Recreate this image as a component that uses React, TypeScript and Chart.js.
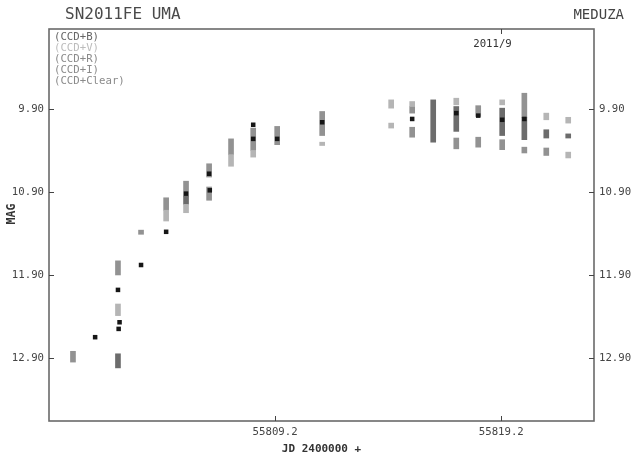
import React, { useEffect, useRef } from "react";
import { Chart, registerables } from "chart.js";

Chart.register(...registerables);

const TITLE = "SN2011FE UMA";
const OBSERVER = "MEDUZA";
const MONTH_LABEL = "2011/9";
const MONTH_JD = 55819.2;
const X_TITLE = "JD 2400000 +";
const Y_TITLE = "MAG";
const X_MIN = 55799.2;
const X_MAX = 55823.3;
const Y_MIN = 8.936;
const Y_MAX = 13.66;
const X_TICKS = [55809.2, 55819.2];
const Y_TICKS = [9.9, 10.9, 11.9, 12.9];
const LEGEND_LABELS = ["(CCD+B)", "(CCD+V)", "(CCD+R)", "(CCD+I)", "(CCD+Clear)"];
const LEGEND_COLORS = ["#666666", "#bcbcbc", "#8a8a8a", "#8a8a8a", "#8a8a8a"];

// isolated black squares: [JD, mag]
const B_POINTS: [number, number][] = [
  [55801.24, 12.65],
  [55802.25, 12.08],
  [55802.32, 12.47],
  [55802.28, 12.55],
  [55803.27, 11.78],
  [55804.38, 11.38],
  [55805.26, 10.92],
  [55806.28, 10.68],
  [55806.31, 10.88],
  [55808.23, 10.09],
  [55808.23, 10.26],
  [55809.29, 10.26],
  [55811.28, 10.06],
  [55815.26, 10.02],
  [55817.21, 9.95],
  [55818.18, 9.98],
  [55819.24, 10.03],
  [55820.22, 10.02],
];

// runs of stacked observations: [JD, brightest mag, faintest mag]
const V_SEGMENTS: [number, number, number][] = [
  [55802.25, 12.25, 12.39],
  [55804.38, 11.12, 11.25],
  [55805.26, 11.05, 11.15],
  [55807.25, 10.45, 10.59],
  [55808.23, 10.4, 10.48],
  [55811.28, 10.3, 10.34],
  [55814.33, 9.79, 9.89],
  [55814.33, 10.07, 10.13],
  [55815.26, 9.81, 9.87],
  [55817.21, 9.77, 9.85],
  [55819.24, 9.79, 9.85],
  [55821.19, 9.95, 10.03],
  [55822.16, 10.0, 10.07],
  [55822.16, 10.42, 10.49],
];

const R_SEGMENTS: [number, number, number][] = [
  [55800.26, 12.82, 12.95],
  [55802.25, 11.73, 11.9],
  [55803.27, 11.36, 11.41],
  [55804.38, 10.97, 11.12],
  [55805.26, 10.77, 10.95],
  [55806.28, 10.56, 10.72],
  [55806.28, 10.84, 11.0],
  [55807.25, 10.26, 10.45],
  [55808.23, 10.13, 10.4],
  [55809.29, 10.11, 10.33],
  [55811.28, 9.93, 10.22],
  [55815.26, 9.87, 9.95],
  [55815.26, 10.12, 10.24],
  [55817.21, 10.25, 10.38],
  [55818.18, 9.86, 9.99],
  [55818.18, 10.24, 10.36],
  [55819.24, 10.27, 10.39],
  [55820.22, 9.71, 10.0],
  [55820.22, 10.36, 10.43],
  [55821.19, 10.37, 10.46],
];

const I_SEGMENTS: [number, number, number][] = [
  [55802.25, 12.85, 13.02],
  [55805.26, 10.95, 11.05],
  [55816.19, 9.79, 10.3],
  [55817.21, 9.87, 10.17],
  [55819.24, 9.89, 10.22],
  [55820.22, 10.0, 10.27],
  [55821.19, 10.15, 10.25],
  [55822.16, 10.2, 10.25],
];

const MONO = "'DejaVu Sans Mono', 'Liberation Mono', monospace";

const segs = (arr: [number, number, number][]) => arr.map(([x, a, b]) => ({ x, y: [a, b] }));

const framePlugin = {
  id: "frameAndTexts",
  afterDraw(chart: any) {
    const { ctx, chartArea: a, scales } = chart;
    ctx.save();
    ctx.strokeStyle = "#6a6a6a";
    ctx.lineWidth = 1.6;
    ctx.strokeRect(a.left, a.top, a.right - a.left, a.bottom - a.top);
    ctx.lineWidth = 1;
    ctx.strokeStyle = "#444";
    ctx.beginPath();
    for (const v of X_TICKS) {
      const px = Math.round(scales.x.getPixelForValue(v)) + 0.5;
      ctx.moveTo(px, a.bottom);
      ctx.lineTo(px, a.bottom - 5);
    }
    const mx = Math.round(scales.x.getPixelForValue(MONTH_JD)) + 0.5;
    ctx.moveTo(mx, a.top);
    ctx.lineTo(mx, a.top + 5);
    for (const v of Y_TICKS) {
      const py = Math.round(scales.y.getPixelForValue(v)) + 0.5;
      ctx.moveTo(a.left, py);
      ctx.lineTo(a.left + 5, py);
      ctx.moveTo(a.right, py);
      ctx.lineTo(a.right - 5, py);
    }
    ctx.stroke();

    ctx.textBaseline = "middle";
    ctx.fillStyle = "#4a4a4a";
    ctx.font = `16px ${MONO}`;
    ctx.textAlign = "left";
    ctx.fillText(TITLE, 65, 15);
    ctx.font = `14px ${MONO}`;
    ctx.textAlign = "right";
    ctx.fillStyle = "#444";
    ctx.fillText(OBSERVER, 624, 15);

    ctx.font = `10.7px ${MONO}`;
    ctx.textAlign = "center";
    ctx.fillStyle = "#333";
    ctx.fillText(MONTH_LABEL, mx - 9, 44);

    ctx.textAlign = "left";
    LEGEND_LABELS.forEach((t, i) => {
      ctx.fillStyle = LEGEND_COLORS[i];
      ctx.fillText(t, 54, 37.5 + i * 10.9);
    });

    ctx.save();
    ctx.translate(12, 214);
    ctx.rotate(-Math.PI / 2);
    ctx.textAlign = "center";
    ctx.fillStyle = "#333";
    ctx.font = `bold 11.5px ${MONO}`;
    ctx.fillText(Y_TITLE, 0, 0);
    ctx.restore();
    ctx.restore();
  },
};

export default function App() {
  const ref = useRef<HTMLCanvasElement | null>(null);
  useEffect(() => {
    if (!ref.current) return;
    const barCommon = {
      type: "bar" as const,
      barThickness: 5,
      grouped: false,
      borderWidth: 0,
      borderSkipped: false,
    };
    const yAxisCommon = (pos: "left" | "right", width: number) => ({
      type: "linear" as const,
      position: pos,
      reverse: true,
      min: Y_MIN,
      max: Y_MAX,
      beginAtZero: false,
      offset: false,
      afterBuildTicks: (s: any) => {
        s.ticks = Y_TICKS.map((v) => ({ value: v }));
      },
      afterFit: (s: any) => {
        s.width = width;
      },
      grid: { display: false, drawTicks: false, offset: false },
      border: { display: false },
      ticks: {
        padding: 5,
        color: "#444",
        font: { family: MONO, size: 10.7 },
        callback: (v: any) => Number(v).toFixed(2),
      },
    });
    const chart = new Chart(ref.current, {
      type: "scatter",
      data: {
        datasets: [
          {
            label: "B",
            data: B_POINTS.map(([x, y]) => ({ x, y })),
            pointStyle: "rect",
            pointRadius: 3.2,
            pointBorderWidth: 0,
            backgroundColor: "#161616",
          } as any,
          { ...barCommon, label: "V", data: segs(V_SEGMENTS), backgroundColor: "#b5b5b5" } as any,
          { ...barCommon, label: "I", data: segs(I_SEGMENTS), backgroundColor: "#6c6c6c" } as any,
          { ...barCommon, label: "R", data: segs(R_SEGMENTS), backgroundColor: "#929292" } as any,
        ],
      },
      options: {
        animation: false,
        responsive: false,
        maintainAspectRatio: false,
        layout: { padding: { top: 29, left: 0, right: 0, bottom: 0 } },
        plugins: { legend: { display: false }, tooltip: { enabled: false } },
        events: [],
        scales: {
          x: {
            type: "linear",
            position: "bottom",
            min: X_MIN,
            max: X_MAX,
            offset: false,
            afterBuildTicks: (s: any) => {
              s.ticks = X_TICKS.map((v) => ({ value: v }));
            },
            afterFit: (s: any) => {
              s.height = 41;
            },
            grid: { display: false, drawTicks: false, offset: false },
            border: { display: false },
            ticks: {
              padding: 5,
              color: "#444",
              maxRotation: 0,
              autoSkip: false,
              font: { family: MONO, size: 10.7 },
              callback: (v: any) => Number(v).toFixed(1),
            },
            title: {
              display: true,
              text: X_TITLE,
              color: "#333",
              font: { family: MONO, size: 11, weight: "bold" },
              padding: { top: 0, bottom: 6 },
            },
          },
          y: yAxisCommon("left", 49),
          y2: yAxisCommon("right", 40),
        } as any,
      },
      plugins: [framePlugin],
    });
    return () => chart.destroy();
  }, []);
  return (
    <div style={{ position: "absolute", left: 0, top: 0, width: 634, height: 462, background: "#fff" }}>
      <canvas ref={ref} width={634} height={462} style={{ display: "block", width: 634, height: 462 }} />
    </div>
  );
}
